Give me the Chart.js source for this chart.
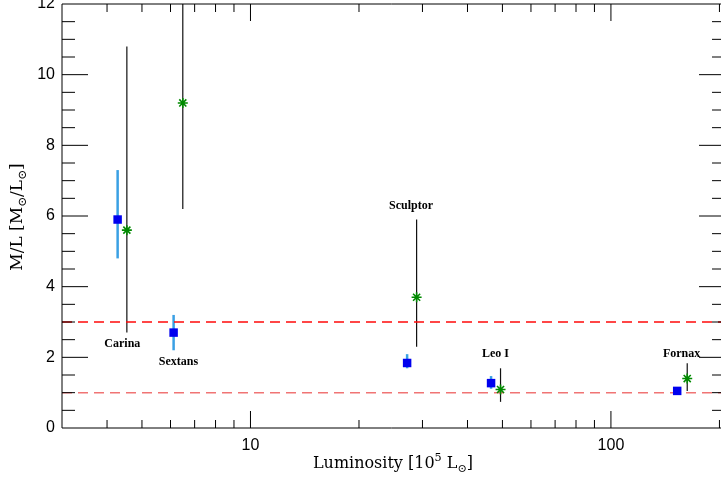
<!DOCTYPE html>
<html>
<head>
<meta charset="utf-8">
<script src="https://cdn.jsdelivr.net/npm/chart.js@4.4.1/dist/chart.umd.min.js"></script>
<style>
  html, body { margin: 0; padding: 0; background: #fff; }
  #wrap { width: 721px; height: 482px; }
</style>
</head>
<body>
<div id="wrap"><canvas id="mlChart" width="721" height="482"></canvas></div>
<script>
// Galaxy names and where their labels sit (luminosity, M/L)
const galaxyNames = ['Carina', 'Sextans', 'Sculptor', 'Leo I', 'Fornax'];
const labelLum = [4.41, 6.31, 27.9, 47.8, 157];
const labelML = [2.38, 1.88, 6.28, 2.09, 2.11];

// Blue squares: luminosity [1e5 Lsun], M/L and error range
const blueLum = [4.28, 6.12, 27.2, 46.5, 152.7];
const blueML = [5.9, 2.7, 1.84, 1.27, 1.05];
const blueLow = [4.8, 2.2, 1.69, 1.11, 1.05];
const blueHigh = [7.3, 3.2, 2.09, 1.47, 1.05];

// Green stars: luminosity, M/L and error range
const greenLum = [4.54, 6.49, 28.9, 49.4, 162.8];
const greenML = [5.6, 9.2, 3.7, 1.09, 1.4];
const greenLow = [2.7, 6.2, 2.3, 0.74, 1.05];
const greenHigh = [10.8, 13.5, 5.9, 1.69, 1.83];

// Dashed reference M/L levels
const refLevels = [3, 1];
const refColors = ['rgb(255,10,10)', 'rgba(235,70,70,0.75)'];
const refWidths = [1.6, 1.5];

// Axis ticks
const yTicks = [0, 2, 4, 6, 8, 10, 12];
const xTickLabels = [10, 100];
const X_MIN = 3, X_MAX = 202;

const toPoints = (xs, ys) => xs.map((x, i) => ({ x: x, y: ys[i] }));

// draws text made of pieces, some raised or lowered
function richWidth(ctx, parts, size) {
  let w = 0;
  parts.forEach(p => {
    ctx.font = (p.sup || p.sub ? size * 0.7 : size) + 'px "DejaVu Serif"';
    w += ctx.measureText(p.t).width;
  });
  return w;
}
function drawRich(ctx, parts, size, x, y) {
  let cx = x - richWidth(ctx, parts, size) / 2;
  parts.forEach(p => {
    ctx.font = (p.sup || p.sub ? size * 0.7 : size) + 'px "DejaVu Serif"';
    const dy = p.sup ? -size * 0.4 : (p.sub ? size * 0.3 : 0);
    ctx.fillText(p.t, cx, y + dy);
    cx += ctx.measureText(p.t).width;
  });
}

const xTitle = [{ t: 'Luminosity [10' }, { t: '5', sup: true }, { t: ' L' }, { t: '\u2299', sub: true }, { t: ']' }];
const yTitle = [{ t: 'M/L [M' }, { t: '\u2299', sub: true }, { t: '/L' }, { t: '\u2299', sub: true }, { t: ']' }];

const errorBars = {
  id: 'errorBars',
  beforeDatasetsDraw(chart) {
    const { ctx, chartArea: a, scales: { x, y } } = chart;
    ctx.save();
    ctx.beginPath();
    ctx.rect(a.left, a.top, a.right - a.left, a.bottom - a.top);
    ctx.clip();
    // black bars for the stars
    ctx.strokeStyle = '#111';
    ctx.lineWidth = 1.2;
    greenLum.forEach((l, i) => {
      const px = x.getPixelForValue(l);
      ctx.beginPath();
      ctx.moveTo(px, y.getPixelForValue(greenLow[i]));
      ctx.lineTo(px, y.getPixelForValue(greenHigh[i]));
      ctx.stroke();
    });
    // light blue bars for the squares
    ctx.strokeStyle = '#3aa0e4';
    ctx.lineWidth = 2.5;
    blueLum.forEach((l, i) => {
      const px = x.getPixelForValue(l);
      ctx.beginPath();
      ctx.moveTo(px, y.getPixelForValue(blueLow[i]));
      ctx.lineTo(px, y.getPixelForValue(blueHigh[i]));
      ctx.stroke();
    });
    ctx.restore();
  },
  afterDraw(chart) {
    const { ctx, chartArea: a, scales: { x, y } } = chart;
    ctx.save();
    ctx.strokeStyle = '#000';
    ctx.lineWidth = 1;
    ctx.beginPath();
    ctx.moveTo(a.left, a.top);
    ctx.lineTo(a.right, a.top);
    ctx.moveTo(a.left, a.top);
    ctx.lineTo(a.left, a.bottom);
    ctx.lineTo(a.right, a.bottom);

    // y ticks every 0.5, long ones at the labelled values
    for (let v = 0.5; v < 12; v += 0.5) {
      const py = y.getPixelForValue(v);
      const major = yTicks.includes(v);
      ctx.moveTo(a.left, py);
      ctx.lineTo(a.left + (major ? 26 : 13), py);
      ctx.moveTo(a.right, py);
      ctx.lineTo(a.right - (major ? 22 : 9), py);
    }
    // log x ticks on bottom and top
    [1, 10, 100].forEach(d => {
      for (let m = 1; m <= 9; m++) {
        const v = m * d;
        if (v <= X_MIN || v > X_MAX) continue;
        const px = x.getPixelForValue(v);
        const len = m === 1 ? 17 : 8;
        ctx.moveTo(px, a.bottom);
        ctx.lineTo(px, a.bottom - len);
        ctx.moveTo(px, a.top);
        ctx.lineTo(px, a.top + len);
      }
    });
    ctx.stroke();

    // axis titles
    ctx.fillStyle = '#000';
    ctx.textBaseline = 'middle';
    ctx.textAlign = 'left';
    drawRich(ctx, xTitle, 16, 393, 464);
    ctx.save();
    ctx.translate(18, 217);
    ctx.rotate(-Math.PI / 2);
    drawRich(ctx, yTitle, 17, 0, 0);
    ctx.restore();

    // galaxy names
    ctx.font = 'bold 12px "Liberation Serif"';
    ctx.textAlign = 'center';
    galaxyNames.forEach((n, i) => {
      ctx.fillText(n, x.getPixelForValue(labelLum[i]), y.getPixelForValue(labelML[i]));
    });
    ctx.restore();
  }
};

const refDatasets = refLevels.map((lv, i) => ({
  type: 'line',
  data: [{ x: X_MIN, y: lv }, { x: X_MAX, y: lv }],
  borderColor: refColors[i],
  borderWidth: refWidths[i],
  borderDash: [10, 6],
  pointRadius: 0,
  order: 5
}));

new Chart(document.getElementById('mlChart'), {
  type: 'scatter',
  data: {
    datasets: [
      {
        label: 'squares',
        data: toPoints(blueLum, blueML),
        pointStyle: 'rect',
        pointRadius: 6,
        backgroundColor: '#0000ee',
        borderWidth: 0,
        order: 1
      },
      {
        label: 'stars',
        data: toPoints(greenLum, greenML),
        pointStyle: 'star',
        pointRadius: 5,
        borderColor: '#008a00',
        borderWidth: 1.6,
        order: 0
      },
      ...refDatasets
    ]
  },
  options: {
    responsive: false,
    animation: false,
    layout: { autoPadding: false, padding: { top: 4, right: 0, left: 0, bottom: 0 } },
    plugins: { legend: { display: false }, tooltip: { enabled: false } },
    scales: {
      x: {
        type: 'logarithmic',
        min: X_MIN,
        max: X_MAX,
        grid: { display: false, drawTicks: false },
        border: { display: false },
        afterBuildTicks: s => { s.ticks = xTickLabels.map(v => ({ value: v })); },
        afterFit: s => { s.height = 54; s.paddingLeft = 0; s.paddingRight = 0; },
        ticks: {
          autoSkip: false,
          maxRotation: 0,
          padding: 8,
          color: '#000',
          font: { family: 'Liberation Sans', size: 16 },
          callback: v => String(v)
        }
      },
      y: {
        min: 0,
        max: 12,
        grid: { display: false, drawTicks: false },
        border: { display: false },
        afterBuildTicks: s => { s.ticks = yTicks.map(v => ({ value: v })); },
        afterFit: s => { s.width = 62; s.paddingTop = 0; s.paddingBottom = 0; },
        ticks: {
          padding: 7,
          color: '#000',
          font: { family: 'Liberation Sans', size: 16 },
          callback: v => String(v)
        }
      }
    }
  },
  plugins: [errorBars]
});
</script>
</body>
</html>
